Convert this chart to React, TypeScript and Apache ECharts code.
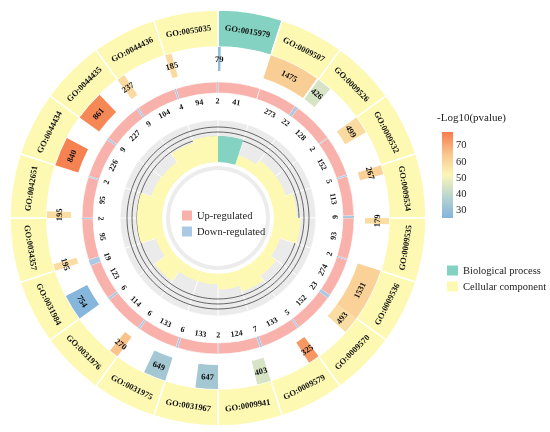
import React, { useEffect, useRef } from 'react';
import * as echarts from 'echarts';

const goIds = ['GO:0015979','GO:0009507','GO:0009526','GO:0009532','GO:0009534','GO:0009535','GO:0009536','GO:0009570','GO:0009579','GO:0009941','GO:0031967','GO:0031975','GO:0031976','GO:0031984','GO:0034357','GO:0042651','GO:0044434','GO:0044435','GO:0044436','GO:0055035'];
const ontology = ['BP','CC','CC','CC','CC','CC','CC','CC','CC','CC','CC','CC','CC','CC','CC','CC','CC','CC','CC','CC'];
const bgCounts = [79,1475,426,499,267,179,1531,493,325,403,647,649,270,754,195,195,840,861,237,185];
const negLogP = [29,62,44,59,61,58,61,58,73,44,33,33,65,26,58,58,77,76,59,59];
const upCounts = [41,273,128,152,113,93,274,152,133,124,133,133,114,123,95,95,226,227,104,94];
const downCounts = [0,22,2,5,6,2,23,5,7,2,6,6,6,19,2,2,9,9,4,2];
const richFactor = [0.52,0.20,0.31,0.31,0.45,0.53,0.19,0.32,0.43,0.31,0.21,0.21,0.44,0.19,0.50,0.50,0.28,0.27,0.46,0.52];
const gridValues = [0.5, 0.6, 0.7];
const colorTicks = [30, 40, 50, 60, 70];
const colorMin = 25, colorMax = 78;
const rfMax = 0.84;

const FONT = "'Liberation Serif', 'Times New Roman', serif";
const CX = 218, CY = 218;
const BP_COLOR = '#84d2c1';
const CC_COLOR = '#fdf9b3';
const UP_COLOR = '#f8b1ab';
const DOWN_COLOR = '#a9c9e4';
const SCALE_COLORS = ['#82b4dc', '#b9d5cf', '#fbf6b7', '#f9c48c', '#f67d4c'];
const N = goIds.length;
const maxCount = Math.max(...bgCounts);

function sectorShape(params: any, api: any, r0v: number, r1v: number, a0v: number, a1v: number) {
  const p0 = api.coord([r0v, a0v]);
  const p1 = api.coord([r1v, a1v]);
  return { cx: params.coordSys.cx, cy: params.coordSys.cy, r0: p0[2], r: p1[2], startAngle: -p0[3], endAngle: -p1[3], clockwise: true };
}
function rotFor(av: number) {
  let th = ((av * 360) / N) % 360;
  if (th > 90 && th < 270) th -= 180;
  return (-th * Math.PI) / 180;
}
function tText(api: any, rv: number, av: number, text: string, extra: any = {}) {
  const p = api.coord([rv, av]);
  return {
    type: 'text', x: p[0], y: p[1], rotation: rotFor(av),
    style: { text, fontFamily: FONT, fontWeight: 'bold', fontSize: 8.5, fill: '#111', align: 'center', verticalAlign: 'middle', ...extra },
  };
}

const polarCommon = (r0: number, r1: number) => ({ center: [CX, CY], radius: [r0, r1] });
const angleAxisCommon = (idx: number) => ({ polarIndex: idx, type: 'value', min: 0, max: N, startAngle: 90, clockwise: true, show: false });
const radiusAxisCommon = (idx: number, max: number) => ({ polarIndex: idx, type: 'value', min: 0, max, show: false });

export default function App() {
  const ref = useRef<HTMLDivElement>(null);
  useEffect(() => {
    const chart = echarts.init(ref.current!, null, { renderer: 'svg' });
    const idx = goIds.map((_, i) => i);
    const outerSeries = (name: string, key: string, color: string) => ({
      type: 'custom', name, coordinateSystem: 'polar', polarIndex: 0,
      itemStyle: { color },
      data: idx.filter((i) => ontology[i] === key).map((i) => [i]),
      renderItem: (params: any, api: any) => {
        const i = api.value(0);
        return {
          type: 'group', children: [
            { type: 'sector', shape: sectorShape(params, api, 0, 1, i, i + 1), style: { fill: color, stroke: '#fff', lineWidth: 1.5 } },
            tText(api, 0.5, i + 0.5, goIds[i]),
          ],
        };
      },
    });
    const option: any = {
      animation: false,
      title: { text: '-Log10(pvalue)', left: 437, top: 111, padding: 0, textStyle: { fontFamily: FONT, fontSize: 11, fontWeight: 'normal', color: '#222' } },
      polar: [polarCommon(171, 208), polarCommon(147, 171), polarCommon(110, 136), polarCommon(56, 98)],
      angleAxis: [0, 1, 2, 3].map(angleAxisCommon),
      radiusAxis: [radiusAxisCommon(0, 1), radiusAxisCommon(1, 1), radiusAxisCommon(2, 1), radiusAxisCommon(3, rfMax)],
      grid: { left: 442, top: 132, width: 11, height: 86 },
      xAxis: { type: 'value', min: 0, max: 1, show: false },
      yAxis: {
        type: 'value', min: colorMin, max: colorMax, position: 'right',
        axisLine: { show: false }, splitLine: { show: false },
        axisTick: { show: true, length: 3, customValues: colorTicks, lineStyle: { color: '#333', width: 0.8 } },
        axisLabel: { customValues: colorTicks, margin: 3, fontFamily: FONT, fontSize: 10.5, color: '#222' },
      },
      visualMap: {
        type: 'continuous', show: false, min: colorMin, max: colorMax, dimension: 2, seriesIndex: 2,
        inRange: { color: SCALE_COLORS },
      },
      legend: [
        { data: ['Up-regulated', 'Down-regulated'], orient: 'vertical', left: 177, top: 205, itemWidth: 10, itemHeight: 10, itemGap: 5, icon: 'rect', selectedMode: false, textStyle: { fontFamily: FONT, fontSize: 10.5, color: '#222' } },
        { data: ['Biological process', 'Cellular component'], orient: 'vertical', left: 442, top: 260, itemWidth: 11, itemHeight: 10, itemGap: 5, icon: 'rect', selectedMode: false, textStyle: { fontFamily: FONT, fontSize: 10.5, color: '#222' } },
      ],
      graphic: [
        { type: 'ring', shape: { cx: CX, cy: CY, r: 52, r0: 48 }, style: { fill: '#ececec' }, z: 1 },
      ],
      series: [
        outerSeries('Biological process', 'BP', BP_COLOR),
        outerSeries('Cellular component', 'CC', CC_COLOR),
        {
          type: 'custom', name: 'Background genes', coordinateSystem: 'polar', polarIndex: 1,
          data: idx.map((i) => [i, bgCounts[i], negLogP[i]]),
          renderItem: (params: any, api: any) => {
            const i = api.value(0);
            const w = api.value(1) / maxCount;
            return {
              type: 'group', children: [
                { type: 'sector', shape: sectorShape(params, api, 0, 1, i, i + w), style: { fill: api.visual('color') } },
                tText(api, 0.5, i + w / 2, String(api.value(1))),
              ],
            };
          },
        },
        {
          type: 'custom', name: 'Up-regulated', coordinateSystem: 'polar', polarIndex: 2,
          itemStyle: { color: UP_COLOR },
          data: idx.map((i) => [i, upCounts[i], downCounts[i]]),
          renderItem: (params: any, api: any) => {
            const i = api.value(0);
            const f = api.value(1) / (api.value(1) + api.value(2));
            return {
              type: 'group', children: [
                { type: 'sector', shape: sectorShape(params, api, 0.577, 1, i, i + f), style: { fill: UP_COLOR, stroke: '#fff', lineWidth: 0.6 } },
                tText(api, 0.27, i + f / 2, String(api.value(1)), { fontSize: 8 }),
              ],
            };
          },
        },
        {
          type: 'custom', name: 'Down-regulated', coordinateSystem: 'polar', polarIndex: 2,
          itemStyle: { color: DOWN_COLOR },
          data: idx.filter((i) => downCounts[i] > 0).map((i) => [i, upCounts[i], downCounts[i]]),
          renderItem: (params: any, api: any) => {
            const i = api.value(0);
            const f = api.value(1) / (api.value(1) + api.value(2));
            return {
              type: 'group', children: [
                { type: 'sector', shape: sectorShape(params, api, 0.577, 1, i + f, i + 1), style: { fill: DOWN_COLOR } },
                tText(api, 0.27, i + (1 + f) / 2, String(api.value(2)), { fontSize: 8 }),
              ],
            };
          },
        },
        {
          type: 'custom', name: 'bg', coordinateSystem: 'polar', polarIndex: 3, silent: true,
          data: idx.map((i) => [i]),
          renderItem: (params: any, api: any) => {
            const i = api.value(0);
            return { type: 'sector', shape: sectorShape(params, api, 0, rfMax, i, i + 1), style: { fill: '#ebebeb', stroke: '#fff', lineWidth: 0.8 } };
          },
        },
        {
          type: 'custom', name: 'grid', coordinateSystem: 'polar', polarIndex: 3, silent: true,
          data: [[0]],
          renderItem: (params: any, api: any) => ({
            type: 'group',
            children: gridValues.map((v) => {
              const p = api.coord([v, 0]);
              return { type: 'circle', shape: { cx: params.coordSys.cx, cy: params.coordSys.cy, r: p[2] }, style: { fill: 'none', stroke: '#444', lineWidth: 0.8 } };
            }),
          }),
        },
        {
          type: 'custom', name: 'Rich factor', coordinateSystem: 'polar', polarIndex: 3,
          data: idx.map((i) => [i, richFactor[i]]),
          renderItem: (params: any, api: any) => {
            const i = api.value(0);
            return { type: 'sector', shape: sectorShape(params, api, 0, api.value(1), i, i + 1), style: { fill: ontology[i] === 'BP' ? BP_COLOR : CC_COLOR } };
          },
        },
        {
          type: 'custom', name: 'colorbar', coordinateSystem: 'cartesian2d', silent: true,
          data: [[0, colorMin]],
          renderItem: (params: any, api: any) => {
            const top = api.coord([0, colorMax]);
            const bot = api.coord([0, colorMin]);
            const cs = params.coordSys;
            return {
              type: 'rect', shape: { x: cs.x, y: top[1], width: cs.width, height: bot[1] - top[1] },
              style: { fill: new echarts.graphic.LinearGradient(0, 1, 0, 0, SCALE_COLORS.map((c, k) => ({ offset: k / (SCALE_COLORS.length - 1), color: c }))) },
            };
          },
        },
      ],
    };
    chart.setOption(option);
    return () => chart.dispose();
  }, []);
  return <div ref={ref} style={{ position: 'fixed', left: 0, top: 0, width: 550, height: 432 }} />;
}
